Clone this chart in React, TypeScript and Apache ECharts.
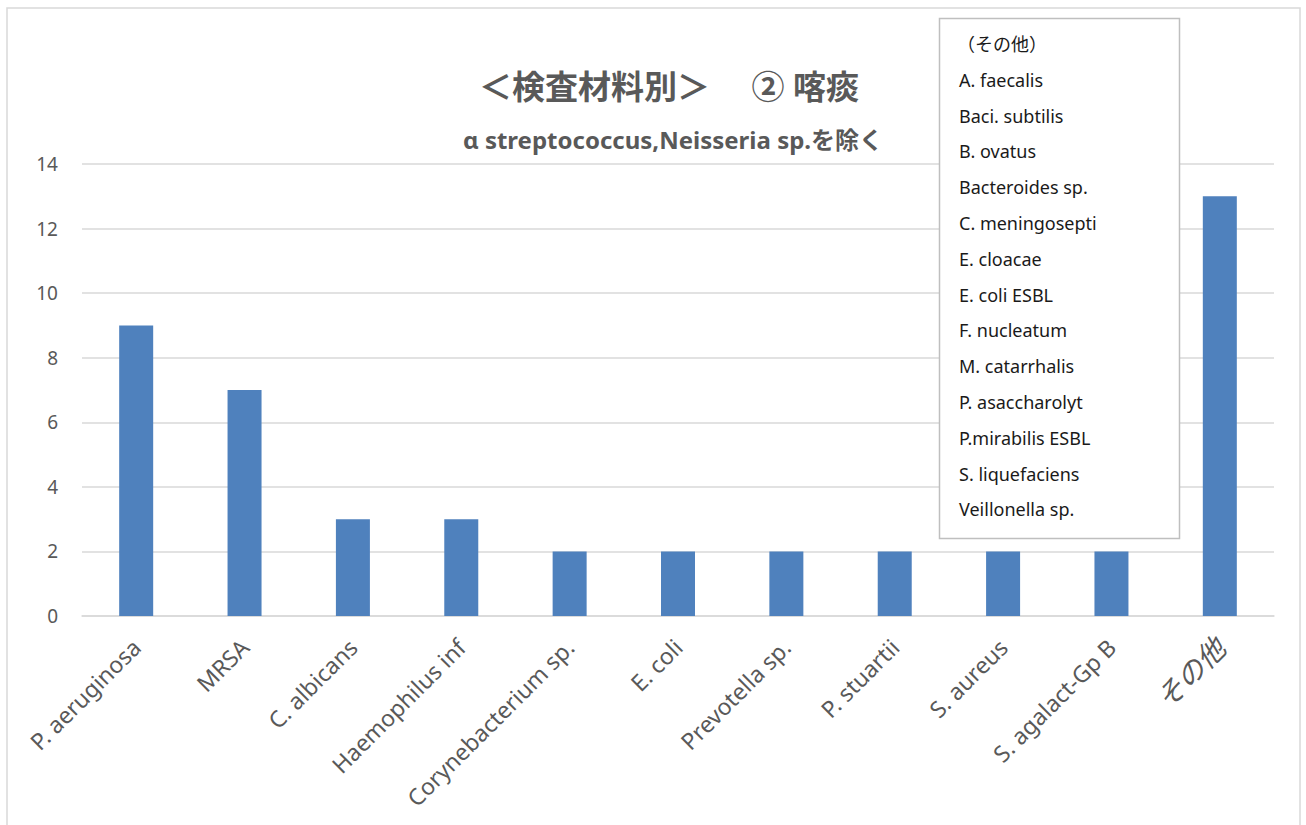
import React, { useEffect, useRef } from "react";
import * as echarts from "echarts";

const categories = [
  "P. aeruginosa",
  "MRSA",
  "C. albicans",
  "Haemophilus inf",
  "Corynebacterium sp.",
  "E. coli",
  "Prevotella sp.",
  "P. stuartii",
  "S. aureus",
  "S. agalact-Gp B",
  "その他",
];
const values = [9, 7, 3, 3, 2, 2, 2, 2, 2, 2, 13];
const yTicks = { min: 0, max: 14, interval: 2 };
const titleText = "＜検査材料別＞　 ② 喀痰";
const subtitleText = "α streptococcus,Neisseria sp.を除く";
const otherItems = [
  "（その他）",
  "A. faecalis",
  "Baci. subtilis",
  "B. ovatus",
  "Bacteroides sp.",
  "C. meningosepti",
  "E. cloacae",
  "E. coli ESBL",
  "F. nucleatum",
  "M. catarrhalis",
  "P. asaccharolyt",
  "P.mirabilis ESBL",
  "S. liquefaciens",
  "Veillonella sp.",
];

const FONT = "'Noto Sans', 'Noto Sans CJK JP', sans-serif";
const GREY = "#595959";

export default function App() {
  const ref = useRef<HTMLDivElement>(null);
  useEffect(() => {
    if (!ref.current) return;
    const chart = echarts.init(ref.current, null, { renderer: "svg" });
    const legendTexts = otherItems.map((t, i) => ({
      type: "text",
      left: i === 0 ? 957 : 959,
      top: 35 + i * 35.8,
      style: { text: t, fill: "#1a1a1a", font: `18px ${FONT}` },
      z: 101,
    }));
    chart.setOption({
      animation: false,
      backgroundColor: "#ffffff",
      textStyle: { fontFamily: FONT },
      title: [
        {
          text: titleText,
          left: 664,
          top: 65,
          textAlign: "center",
          textStyle: { fontSize: 33, fontWeight: "bold", color: GREY, fontFamily: FONT },
        },
        {
          text: subtitleText,
          left: 668,
          top: 122,
          textAlign: "center",
          textStyle: { fontSize: 24, fontWeight: "bold", color: GREY, fontFamily: FONT },
        },
      ],
      grid: { left: 82, right: 32, top: 164, bottom: 209, containLabel: false },
      xAxis: {
        type: "category",
        data: categories,
        axisLine: { show: true, lineStyle: { color: "#d9d9d9", width: 1.5 } },
        axisTick: { show: false },
        axisLabel: {
          interval: 0,
          rotate: 45,
          margin: 27,
          verticalAlign: "middle",
          color: GREY,
          fontSize: 23,
          fontFamily: FONT,
          formatter: (v: string) => (v === "その他" ? `{big|${v}}` : v),
          rich: { big: { fontSize: 28, color: GREY, fontStyle: "italic", fontFamily: FONT } },
        },
      },
      yAxis: {
        type: "value",
        min: yTicks.min,
        max: yTicks.max,
        interval: yTicks.interval,
        axisLine: { show: false },
        axisTick: { show: false },
        axisLabel: { color: GREY, fontSize: 19, margin: 24, fontFamily: FONT },
        splitLine: { lineStyle: { color: "#d9d9d9", width: 1.5 } },
      },
      series: [
        {
          type: "bar",
          data: values,
          barWidth: 34,
          itemStyle: { color: "#4f81bd" },
        },
      ],
      graphic: [
        {
          type: "rect",
          shape: { x: 7, y: 8, width: 1293, height: 900 },
          style: { fill: "none", stroke: "#d9d9d9", lineWidth: 1.5 },
          z: 0,
          silent: true,
        },
        {
          type: "rect",
          shape: { x: 939.5, y: 18.5, width: 240, height: 520 },
          style: { fill: "#ffffff", stroke: "#bfbfbf", lineWidth: 1.5 },
          z: 100,
        },
        ...legendTexts,
      ],
    });
    return () => chart.dispose();
  }, []);
  return (
    <div
      ref={ref}
      style={{ position: "absolute", left: 0, top: 0, width: 1306, height: 825 }}
    />
  );
}
